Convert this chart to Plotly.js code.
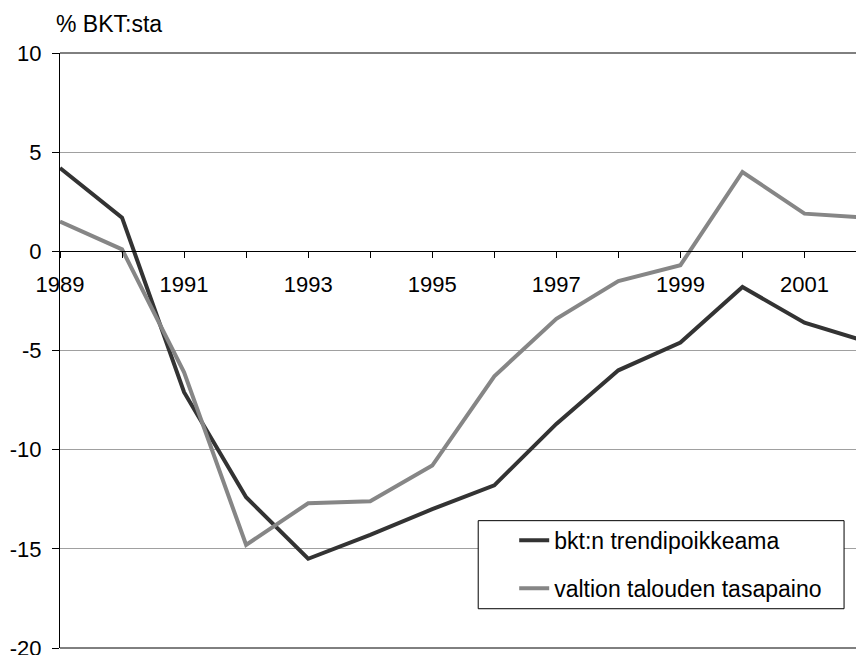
<!DOCTYPE html>
<html>
<head>
<meta charset="utf-8">
<script src="https://cdn.plot.ly/plotly-3.0.1.min.js"></script>
<style>html,body{margin:0;padding:0;background:#fff;}#chart{width:856px;height:655px;}</style>
</head>
<body>
<div id="chart"></div>
<script>
const years = [1989,1990,1991,1992,1993,1994,1995,1996,1997,1998,1999,2000,2001,2002];
const bktTrend = [4.2,1.7,-7.1,-12.4,-15.5,-14.3,-13.0,-11.8,-8.7,-6.0,-4.6,-1.8,-3.6,-4.55];
const valtionTasapaino = [1.5,0.1,-6.1,-14.8,-12.7,-12.6,-10.8,-6.3,-3.4,-1.5,-0.7,4.0,1.9,1.7];
const seriesNames = ['bkt:n trendipoikkeama','valtion talouden tasapaino'];
const yTicks = [-20,-15,-10,-5,0,5,10];
const xLabelYears = [1989,1991,1993,1995,1997,1999,2001];
const yUnitLabel = '% BKT:sta';

const font = {family:'"Liberation Sans", Arial, sans-serif', size:22, color:'#000'};

const traces = [
  {x: years, y: bktTrend, name: seriesNames[0], type:'scatter', mode:'lines',
   line:{color:'#333333', width:4}, legendgroup:'a'},
  {x: years, y: valtionTasapaino, name: seriesNames[1], type:'scatter', mode:'lines',
   line:{color:'#868686', width:4}, legendgroup:'b'}
];

const layout = {
  width:856, height:655,
  margin:{l:59.5, r:0, t:53.3, b:6.7, pad:0},
  paper_bgcolor:'#fff', plot_bgcolor:'#fff',
  font: font,
  showlegend:true,
  legend:{x:0.5706, y:0.217, xanchor:'left', yanchor:'top', bgcolor:'rgba(0,0,0,0)',
          borderwidth:0, font:{family:font.family, size:23, color:'#000'}, tracegroupgap:15},
  xaxis:{range:[1989, 2001.83], anchor:'free', position:2/3,
         tickvals: xLabelYears, ticktext: xLabelYears.map(String),
         ticks:'outside', ticklen:6, tickcolor:'#000', tickwidth:1,
         minor:{dtick:1, tick0:1989, ticks:'outside', ticklen:6, tickcolor:'#000', showgrid:false},
         showline:true, linecolor:'#000', linewidth:1, showgrid:false, zeroline:false,
         tickfont:font, ticklabelstandoff:7, ticklabeloverflow:'allow', fixedrange:true},
  yaxis:{range:[-20,10], domain:[0,1], tickvals:yTicks, ticktext:yTicks.map(String),
         ticks:'outside', ticklen:7, tickcolor:'#000', tickwidth:1,
         showline:true, linecolor:'#000', linewidth:1,
         showgrid:true, gridcolor:'#a0a0a0', gridwidth:1, zeroline:false,
         tickfont:font, ticklabelstandoff:6, ticklabeloverflow:'allow', fixedrange:true},
  shapes:[
    {type:'line', xref:'paper', yref:'paper', x0:0, x1:1, y0:1, y1:1, line:{color:'#000', width:1}},
    {type:'line', xref:'paper', yref:'paper', x0:0, x1:1, y0:0, y1:0, line:{color:'#000', width:1}},
    {type:'rect', xref:'paper', yref:'paper', x0:0.5254, x1:0.985, y0:0.066, y1:0.214,
     fillcolor:'#fff', line:{color:'#000', width:1}, layer:'above'}
  ],
  annotations:[
    {text:yUnitLabel, xref:'paper', yref:'paper', x:-0.007, y:1.0495, xanchor:'left', yanchor:'middle',
     showarrow:false, font:{family:font.family, size:23, color:'#000'}}
  ]
};

Plotly.newPlot('chart', traces, layout, {displayModeBar:false, staticPlot:true});
</script>
</body>
</html>
